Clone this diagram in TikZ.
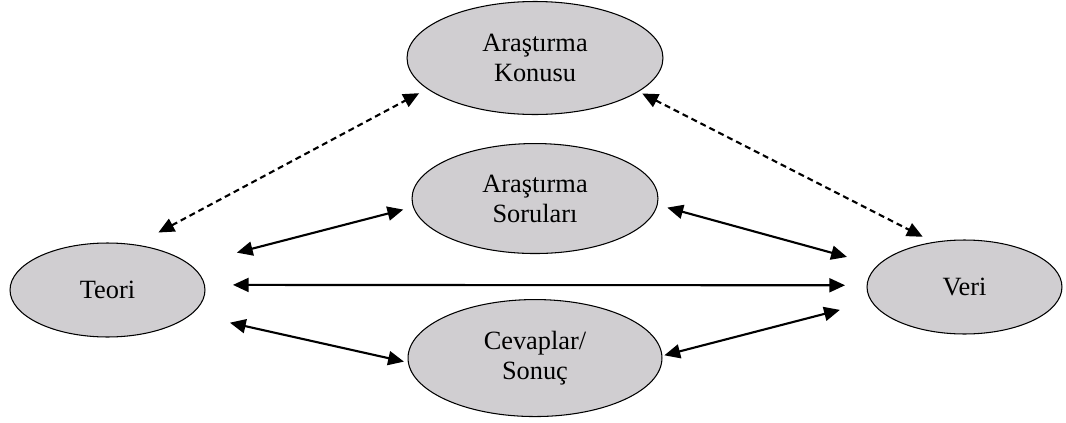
\documentclass[tikz,border=0pt]{standalone}
\usepackage{fontspec}
\setmainfont{Liberation Serif}
\usetikzlibrary{shapes.geometric,positioning,arrows.meta}
\definecolor{ovalgray}{RGB}{208,206,209}
\tikzset{
  >={Triangle[length=9pt,width=8pt]},
}

\begin{document}
\begin{tikzpicture}[
  x=0.02cm, y=-0.02cm,
  oval/.style={ellipse, draw, line width=0.6pt, fill=ovalgray, inner sep=0pt, align=center, font=\fontsize{15}{17}\selectfont},
  link/.style={<->, line width=1.2pt},
  dashlink/.style={link, dash pattern=on 3.4pt off 2.3pt}
]
\useasboundingbox (0,0) rectangle (1066,423);

\node[oval, minimum width=5.12cm, minimum height=2.26cm] (konu) at (535,58) {Araştırma\\Konusu};
\node[oval, minimum width=4.92cm, minimum height=2.2cm, below=0.56cm of konu] (sorular) {Araştırma\\Soruları};
\node[oval, minimum width=5.08cm, minimum height=2.34cm, below=0.9cm of sorular] (cevap) {Cevaplar/\\Sonuç};
\node[oval, minimum width=3.9cm, minimum height=1.88cm] (teori) at (107.5,290) {Teori};
\node[oval, minimum width=3.9cm, minimum height=1.88cm] (veri) at (964.5,287) {Veri};

% dashed links to the topic
\path
(teori.58) edge[dashlink, shorten <=0.51cm, shorten >=0.18cm] (konu.196)
(konu.342) edge[dashlink, shorten <=0.08cm, shorten >=0.23cm] (veri.125);

% solid links
\path
(teori.17) edge[link, shorten <=0.96cm, shorten >=0.2cm] (sorular.184)
(sorular.357) edge[link, shorten <=0.2cm, shorten >=0.63cm] (veri.166)
(teori.3) edge[link, shorten <=0.56cm, shorten >=0.43cm] (veri.179)
(teori.344) edge[link, shorten <=0.78cm, shorten >=0.08cm] (cevap.182)
(cevap.1) edge[link, shorten <=0.04cm, shorten >=0.65cm] (veri.189);

\end{tikzpicture}
\end{document}
